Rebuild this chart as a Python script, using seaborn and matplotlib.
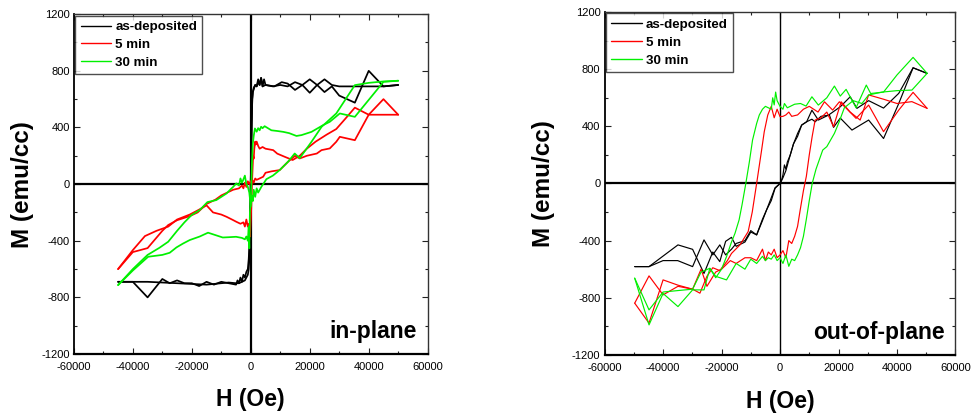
import matplotlib
matplotlib.use("Agg")
import matplotlib.pyplot as plt
from matplotlib.lines import Line2D
from matplotlib.ticker import MultipleLocator
import seaborn as sns
import pandas as pd

# ---------------- data ----------------
samples = ["as-deposited", "5 min", "30 min"]
colors = ["#000000", "#ff0000", "#00f000"]
panel_titles = ["in-plane", "out-of-plane"]
x_ticks = [-60000, -40000, -20000, 0, 20000, 40000, 60000]
y_ticks = [-1200, -800, -400, 0, 400, 800, 1200]

# ---- in-plane, as-deposited ----
ip_asd_down_H = [50000, 45000, 40000, 35300, 30000, 27500, 25000, 22500, 20000, 17500, 15000, 12500, 10500, 8000, 5000, 4500, 4000, 3500, 3000, 2500, 2000, 1500, 1000, 700, 500, 300, 100, -100, -300, -500, -700, -1000, -1500, -2000, -3000, -4000, -5000, -7500, -10000, -15000, -20000, -25000, -30000, -35000, -40000, -45000]
ip_asd_down_M = [700, 690, 800, 575, 625, 690, 650, 700, 645, 700, 665, 710, 720, 690, 700, 740, 690, 750, 700, 720, 690, 700, 670, 650, 600, 420, 150, -100, -350, -530, -600, -640, -660, -680, -690, -700, -700, -695, -700, -710, -705, -700, -695, -690, -690, -690]
ip_asd_up_H = [-45000, -40000, -35000, -30000, -27500, -25000, -22500, -20000, -17500, -15000, -12500, -10000, -7500, -5000, -4500, -4000, -3500, -3000, -2500, -2000, -1500, -1000, -700, -500, -300, -100, 100, 300, 500, 700, 1000, 1500, 2000, 2500, 3000, 3500, 4000, 5000, 7500, 10000, 12500, 15000, 17500, 20000, 22500, 25000, 27500, 30000, 35000, 40000, 45000, 50000]
ip_asd_up_M = [-690, -690, -800, -670, -700, -680, -700, -700, -720, -690, -710, -690, -700, -710, -680, -700, -660, -690, -640, -660, -620, -600, -530, -450, -300, -100, 150, 400, 600, 650, 680, 700, 690, 740, 700, 750, 690, 700, 690, 700, 690, 720, 700, 740, 700, 740, 700, 690, 690, 690, 690, 700]

# ---- in-plane, 5 min ----
ip_5m_down_H = [50000, 45000, 40000, 35300, 32000, 29000, 25700, 22000, 19000, 16600, 14200, 11500, 9000, 7600, 5000, 4000, 3000, 2500, 2000, 1700, 1500, 1200, 1000, 800, 600, 400, 200, 0, -300, -600, -1000, -1500, -2000, -2500, -3500, -4900, -6000, -8200, -10000, -12800, -15000, -17500, -20700, -25000, -28000, -32000, -35900, -40000, -45000]
ip_5m_down_M = [490, 600, 490, 540, 460, 389, 349, 300, 250, 200, 170, 193, 215, 240, 250, 262, 250, 270, 300, 280, 300, 250, 180, 200, 100, 0, -150, -250, -370, -280, -300, -250, -300, -270, -280, -266, -254, -231, -215, -200, -150, -180, -215, -250, -300, -330, -367, -466, -600]
ip_5m_up_H = [-45000, -40000, -35000, -30000, -28000, -25000, -20700, -18000, -15000, -12000, -10000, -8000, -6000, -4000, -3000, -2500, -2000, -1500, -1000, -500, 0, 500, 1000, 1500, 2000, 3000, 4200, 5000, 7000, 9800, 12600, 15000, 16600, 19000, 22400, 24000, 26800, 29000, 30200, 35300, 40000, 45000, 50000]
ip_5m_up_M = [-600, -480, -452, -330, -289, -255, -226, -200, -140, -110, -80, -60, -40, -30, -10, -30, 10, -20, 20, 0, 20, 30, 10, 40, 30, 40, 52, 80, 90, 99, 157, 200, 181, 200, 216, 240, 252, 299, 334, 310, 490, 490, 490]

# ---- in-plane, 30 min ----
ip_30m_down_H = [50000, 45000, 35300, 30200, 26800, 24500, 20600, 17200, 15500, 13000, 11000, 9000, 7000, 4700, 4000, 3500, 3000, 2500, 2000, 1400, 1000, 700, 400, 200, 0, -300, -500, -700, -1000, -1500, -2000, -3000, -5000, -7500, -9500, -12000, -14500, -17300, -20700, -23000, -25200, -27500, -30000, -34800, -40000, -45000]
ip_30m_down_M = [730, 722, 475, 499, 440, 416, 369, 346, 340, 360, 369, 375, 380, 409, 395, 405, 380, 395, 370, 393, 340, 287, 150, 0, -100, -200, -454, -300, -400, -370, -390, -380, -372, -375, -377, -360, -343, -370, -395, -420, -447, -485, -500, -513, -610, -713]
ip_30m_up_H = [-45000, -40000, -35000, -31000, -28000, -25000, -22500, -20100, -17300, -14700, -11700, -8200, -7100, -6000, -4900, -4000, -3500, -3000, -2600, -2000, -1500, -1000, -500, 0, 300, 700, 1000, 1500, 2000, 2500, 3600, 5300, 7500, 9800, 12600, 14900, 16600, 20600, 24000, 29000, 35300, 40000, 45000, 50000]
ip_30m_up_M = [-713, -600, -500, -450, -407, -330, -270, -219, -183, -127, -113, -66, -42, -20, 5, -10, 40, 10, 28, 60, 0, -19, -60, -160, -80, -120, -40, -90, -30, -60, -19, 35, 60, 99, 157, 216, 183, 299, 404, 499, 699, 715, 725, 730]

# ---- out-of-plane, as-deposited ----
op_asd_down_H = [50300, 45500, 40600, 35400, 30300, 26300, 24000, 20600, 16600, 13100, 10900, 9100, 7400, 6000, 4600, 3500, 2500, 2000, 1500, 1000, 500, 0, -1700, -3000, -4600, -6000, -8000, -10000, -12000, -15000, -16600, -18600, -20600, -23000, -26000, -29900, -34900, -44800, -49700]
op_asd_down_M = [771, 810, 631, 528, 580, 526, 607, 537, 479, 444, 513, 432, 409, 330, 277, 200, 150, 100, 130, 60, 20, 0, -34, -120, -185, -260, -360, -340, -410, -440, -377, -405, -547, -480, -630, -461, -430, -582, -582]
op_asd_up_H = [-49700, -44800, -40000, -35000, -29900, -26000, -23000, -20600, -18600, -16600, -15000, -12000, -10000, -8000, -6000, -4600, -3000, -1700, 0, 1000, 2000, 3500, 4600, 6000, 7400, 9100, 10900, 12000, 14000, 16900, 18300, 20600, 24600, 30300, 35400, 40600, 45500, 50300]
op_asd_up_M = [-582, -582, -540, -540, -582, -395, -500, -430, -500, -460, -420, -400, -330, -360, -250, -185, -100, -30, 0, 40, 90, 200, 277, 350, 409, 432, 450, 432, 470, 479, 393, 458, 374, 444, 315, 560, 810, 771]

# ---- out-of-plane, 5 min ----
op_5m_down_H = [50300, 45500, 40600, 35400, 30300, 26000, 22500, 20300, 18000, 15200, 13000, 10000, 8000, 6000, 4000, 3000, 2000, 1000, 0, -1000, -2000, -3000, -4200, -5400, -6300, -8000, -9500, -10900, -13700, -16600, -18000, -20600, -23000, -25000, -27400, -29900, -34900, -40000, -44800, -49700]
op_5m_down_M = [526, 638, 514, 363, 549, 456, 530, 572, 514, 572, 500, 540, 520, 480, 470, 500, 480, 470, 468, 520, 460, 540, 479, 362, 234, 0, -200, -337, -430, -490, -540, -610, -590, -650, -768, -740, -712, -675, -978, -838]
op_5m_up_H = [-49700, -44800, -40000, -34900, -29900, -27000, -25000, -22000, -20000, -17000, -15000, -12000, -10000, -8000, -6000, -5000, -4000, -3000, -2000, -1000, 0, 1000, 2000, 3000, 4000, 5000, 6000, 6900, 8000, 9000, 10000, 11000, 12000, 14000, 16000, 18300, 20900, 24000, 27400, 30300, 35400, 40000, 45100, 50300]
op_5m_up_M = [-838, -647, -780, -720, -740, -600, -720, -620, -600, -540, -560, -520, -520, -540, -460, -540, -480, -500, -460, -520, -500, -470, -520, -400, -420, -370, -300, -185, -50, 50, 200, 330, 444, 460, 500, 398, 572, 500, 444, 620, 590, 560, 573, 526]

# ---- out-of-plane, 30 min ----
op_30m_down_H = [50300, 45500, 40000, 35400, 31000, 29500, 26000, 22600, 20600, 18600, 16000, 13100, 10900, 8900, 7000, 5000, 3500, 2500, 1500, 1000, 0, -1000, -1500, -2000, -2500, -3000, -4000, -5000, -6000, -7100, -8000, -9400, -10500, -11700, -13000, -14000, -15400, -16600, -18300, -20000, -22000, -24000, -26000, -29900, -34900, -40000, -44800, -49700]
op_30m_down_M = [771, 883, 760, 640, 630, 689, 530, 659, 612, 682, 600, 549, 607, 542, 560, 555, 540, 530, 560, 520, 540, 580, 640, 550, 600, 520, 530, 540, 520, 479, 420, 304, 150, 0, -150, -255, -349, -410, -512, -600, -660, -594, -745, -745, -862, -770, -990, -663]
op_30m_up_H = [-49700, -44800, -40000, -35000, -29900, -27000, -24000, -22000, -18300, -15000, -12000, -10000, -8000, -6000, -5000, -4000, -3000, -2000, -1000, 0, 1000, 2000, 3000, 4000, 5000, 6000, 7000, 8000, 9000, 10000, 11000, 12300, 14600, 16000, 18600, 20000, 22000, 25000, 28000, 30300, 35000, 40000, 45100, 50300]
op_30m_up_M = [-663, -885, -760, -750, -740, -620, -594, -650, -675, -560, -600, -530, -560, -510, -540, -520, -530, -500, -540, -520, -560, -500, -580, -530, -540, -500, -450, -370, -250, -120, 0, 100, 234, 258, 351, 420, 530, 580, 560, 620, 640, 650, 654, 771]

# ---------------- style ----------------
sns.set_style("ticks")
from matplotlib import font_manager
avail = {f.name for f in font_manager.fontManager.ttflist}
base_font = "Liberation Sans" if "Liberation Sans" in avail else "DejaVu Sans"
narrow_font = "Liberation Sans Narrow" if "Liberation Sans Narrow" in avail else base_font
plt.rcParams["font.family"] = [base_font, "DejaVu Sans"]
plt.rcParams["axes.unicode_minus"] = False
for key in ["text.color", "axes.labelcolor", "xtick.color", "ytick.color"]:
    plt.rcParams[key] = "black"

branches = {
    "in-plane": [
        (samples[0], ip_asd_down_H, ip_asd_down_M), (samples[0], ip_asd_up_H, ip_asd_up_M),
        (samples[1], ip_5m_down_H, ip_5m_down_M), (samples[1], ip_5m_up_H, ip_5m_up_M),
        (samples[2], ip_30m_down_H, ip_30m_down_M), (samples[2], ip_30m_up_H, ip_30m_up_M),
    ],
    "out-of-plane": [
        (samples[0], op_asd_down_H, op_asd_down_M), (samples[0], op_asd_up_H, op_asd_up_M),
        (samples[1], op_5m_down_H, op_5m_down_M), (samples[1], op_5m_up_H, op_5m_up_M),
        (samples[2], op_30m_down_H, op_30m_down_M), (samples[2], op_30m_up_H, op_30m_up_M),
    ],
}

fig = plt.figure(figsize=(9.72, 4.17), dpi=100)
ax_rects = [[0.076, 0.151, 0.364, 0.815], [0.622, 0.149, 0.361, 0.822]]
ylabel_x = [-0.144, -0.174]
vline_w = [1.6, 1.0]
data_lw = [1.25, 0.85]
palette = dict(zip(samples, colors))
if narrow_font != base_font:
    leg_prop = {"family": narrow_font, "weight": "bold", "size": 11.5}
else:
    leg_prop = {"family": base_font, "weight": "bold", "size": 9.6}

for i, title in enumerate(panel_titles):
    ax = fig.add_axes(ax_rects[i])
    rows = []
    for j, (s, hs, ms) in enumerate(branches[title]):
        for k, (h, m) in enumerate(zip(hs, ms)):
            rows.append({"H": h, "M": m, "sample": s, "branch": j, "order": k})
    df = pd.DataFrame(rows)
    ax.axhline(0, color="black", lw=1.6, zorder=1)
    ax.axvline(0, color="black", lw=vline_w[i], zorder=1)
    sns.lineplot(data=df, x="H", y="M", hue="sample", units="branch", estimator=None,
                 sort=False, palette=palette, hue_order=samples, lw=data_lw[i],
                 legend=False, ax=ax)
    ax.set_xlim(-60000, 60000)
    ax.set_ylim(-1200, 1200)
    ax.set_xticks(x_ticks)
    ax.set_yticks(y_ticks)
    ax.xaxis.set_minor_locator(MultipleLocator(10000))
    ax.yaxis.set_minor_locator(MultipleLocator(200))
    ax.tick_params(which="both", direction="in", top=True, right=True, labelsize=8, pad=3,
                   color="#222222", labelcolor="black")
    ax.tick_params(which="major", length=4, width=0.8)
    ax.tick_params(which="minor", length=2.5, width=0.8)
    ax.tick_params(axis="x", pad=6)
    for sp in ax.spines.values():
        sp.set_color("#333333")
        sp.set_linewidth(1.0)
    ax.spines["bottom"].set_color("black")
    ax.spines["bottom"].set_linewidth(1.6)
    ax.spines["left"].set_color("black")
    ax.spines["left"].set_linewidth(1.3)
    ax.set_xlabel("H (Oe)", fontsize=16.5, fontweight="bold", color="black")
    ax.set_ylabel("M (emu/cc)", fontsize=17.5, fontweight="bold", color="black")
    ax.xaxis.set_label_coords(0.5, -0.135)
    ax.xaxis.label.set_va("center")
    ax.yaxis.set_label_coords(ylabel_x[i], 0.5)
    ax.yaxis.label.set_va("center")
    ax.text(0.97, 0.047, title, transform=ax.transAxes, ha="right", va="baseline",
            fontsize=16.5, fontweight="bold", color="black")
    handles = [Line2D([0], [0], color=c, lw=1.0) for c in colors]
    leg = ax.legend(handles, samples, loc="upper left", bbox_to_anchor=(0.004, 0.996),
                    borderaxespad=0, frameon=True, fancybox=False, handlelength=2.3,
                    handletextpad=0.3, labelspacing=0.42, borderpad=0.4, prop=leg_prop)
    for t in leg.get_texts():
        t.set_color("black")
    leg.get_frame().set_edgecolor("#222222")
    leg.get_frame().set_linewidth(1.0)

fig.savefig("out.png", dpi=100)
